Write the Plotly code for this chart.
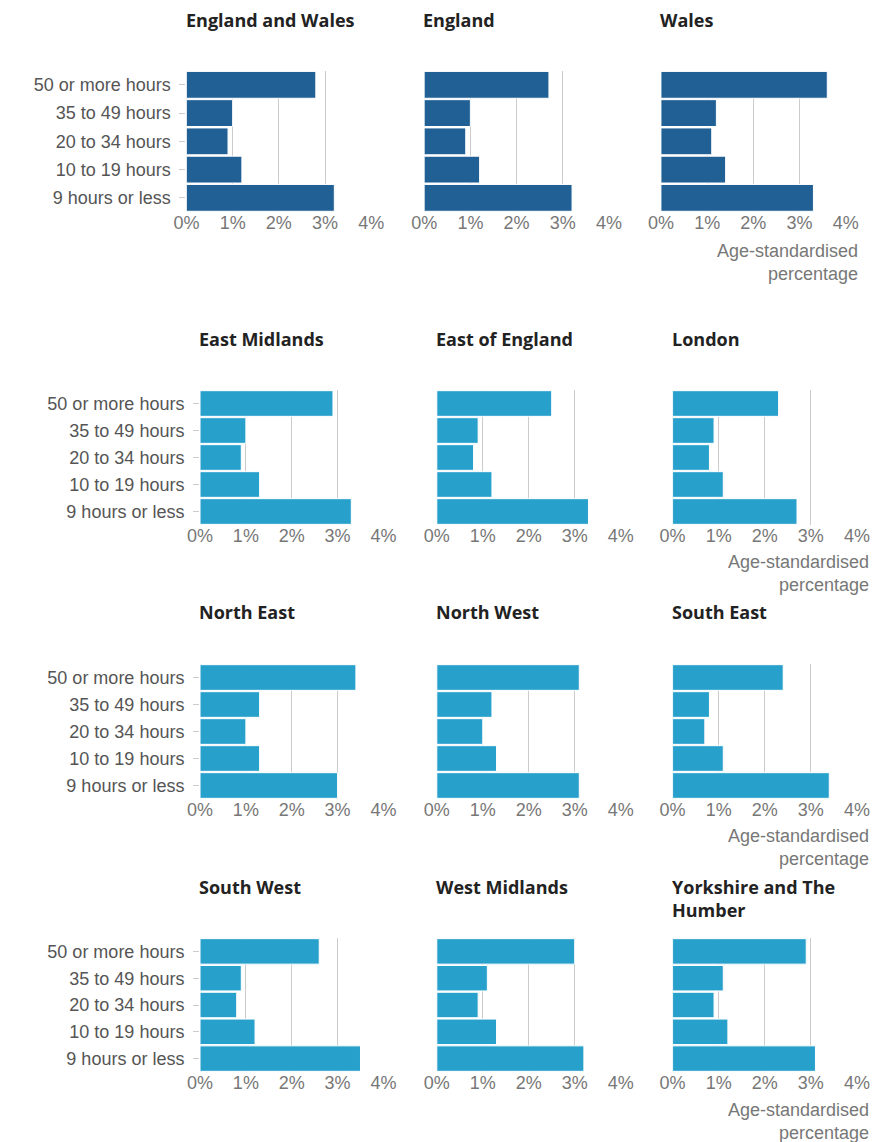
import plotly.graph_objects as go

categories = ["50 or more hours", "35 to 49 hours", "20 to 34 hours", "10 to 19 hours", "9 hours or less"]
x_ticks = [0, 1, 2, 3, 4]
x_tick_labels = ["0%", "1%", "2%", "3%", "4%"]

england_and_wales = [2.8, 1.0, 0.9, 1.2, 3.2]
england = [2.7, 1.0, 0.9, 1.2, 3.2]
wales = [3.6, 1.2, 1.1, 1.4, 3.3]
east_midlands = [2.9, 1.0, 0.9, 1.3, 3.3]
east_of_england = [2.5, 0.9, 0.8, 1.2, 3.3]
london = [2.3, 0.9, 0.8, 1.1, 2.7]
north_east = [3.4, 1.3, 1.0, 1.3, 3.0]
north_west = [3.1, 1.2, 1.0, 1.3, 3.1]
south_east = [2.4, 0.8, 0.7, 1.1, 3.4]
south_west = [2.6, 0.9, 0.8, 1.2, 3.5]
west_midlands = [3.0, 1.1, 0.9, 1.3, 3.2]
yorkshire_and_the_humber = [2.9, 1.1, 0.9, 1.2, 3.1]

panel_titles = ["England and Wales", "England", "Wales",
                "East Midlands", "East of England", "London",
                "North East", "North West", "South East",
                "South West", "West Midlands", "Yorkshire and The<br>Humber"]
panel_values = [england_and_wales, england, wales,
                east_midlands, east_of_england, london,
                north_east, north_west, south_east,
                south_west, west_midlands, yorkshire_and_the_humber]

OFF = 8  # page body margin
W, H = 892 - 2 * OFF, 1142 - OFF
DARK = "#206095"
LIGHT = "#27a0cc"

# pixel layout of plot areas (window coordinates)
row_y = [(70.7, 212.0), (390.0, 525.0), (664.0, 799.0), (938.0, 1072.0)]
col_x_first = [(178.5, 369.0), (423.5, 614.0), (667.5, 858.0)]
col_x_other = [(192.5, 381.5), (436.5, 626.0), (679.5, 869.5)]
title_top = [8.3, 327.3, 600.3, 875.3]
axis_title_top = [240.3, 551.3, 825.3, 1099.3]
axis_title_right = [870.5, 881.5, 881.5, 881.5]


def px(v):
    return (v - OFF) / W


def py(v):
    return 1 - (v - OFF) / H


fig = go.Figure()
annotations = []
layout_axes = {}

for i, (title, vals) in enumerate(zip(panel_titles, panel_values)):
    r, c = divmod(i, 3)
    xs = col_x_first if r == 0 else col_x_other
    x0, x1 = xs[c]
    y0, y1 = row_y[r]
    n = i + 1
    xa = "x" if n == 1 else f"x{n}"
    ya = "y" if n == 1 else f"y{n}"
    color = DARK if r == 0 else LIGHT
    fig.add_trace(go.Bar(
        x=vals, y=categories, orientation="h",
        marker=dict(color=color, line=dict(color="white", width=1)),
        xaxis=xa, yaxis=ya, showlegend=False, hoverinfo="x+y",
    ))
    xkey = "xaxis" if n == 1 else f"xaxis{n}"
    ykey = "yaxis" if n == 1 else f"yaxis{n}"
    layout_axes[xkey] = dict(
        domain=[px(x0), px(x1)], anchor=ya, range=[0, 4],
        tickmode="array", tickvals=x_ticks, ticktext=x_tick_labels,
        showgrid=True, gridcolor="#cccccc",
        gridwidth=1, zeroline=False, showline=False, ticks="",
        ticklabelstandoff=-2,
        tickfont=dict(family="Liberation Sans, Arial, sans-serif", size=18, color="#777777"),
        fixedrange=True,
    )
    layout_axes[ykey] = dict(
        domain=[py(y1), py(y0)], anchor=xa,
        categoryorder="array", categoryarray=categories, autorange="reversed",
        showgrid=False, zeroline=False, showline=False,
        showticklabels=(c == 0), ticks="outside" if c == 0 else "",
        ticklen=6, tickcolor="#cccccc", tickwidth=1,
        ticklabelstandoff=5,
        tickfont=dict(family="Liberation Sans, Arial, sans-serif", size=18, color="#555555"),
        fixedrange=True,
    )
    annotations.append(dict(
        text=f"<b>{title}</b>", xref="paper", yref="paper",
        x=px(x0 - 3), y=py(title_top[r] - 2), xanchor="left", yanchor="top",
        align="left", showarrow=False,
        font=dict(family="Open Sans, sans-serif", size=18, color="#222222"),
    ))
    if c == 2:
        annotations.append(dict(
            text="Age-standardised<br>percentage", xref="paper", yref="paper",
            x=px(axis_title_right[r] + 2), y=py(axis_title_top[r] - 1),
            xanchor="right", yanchor="top", align="right", showarrow=False,
            font=dict(family="Liberation Sans, Arial, sans-serif", size=18, color="#777777"),
        ))

fig.update_layout(
    width=W, height=H, margin=dict(l=0, r=0, t=0, b=0),
    paper_bgcolor="white", plot_bgcolor="white",
    bargap=0.05, annotations=annotations, **layout_axes,
)

fig.write_html("out.html")
